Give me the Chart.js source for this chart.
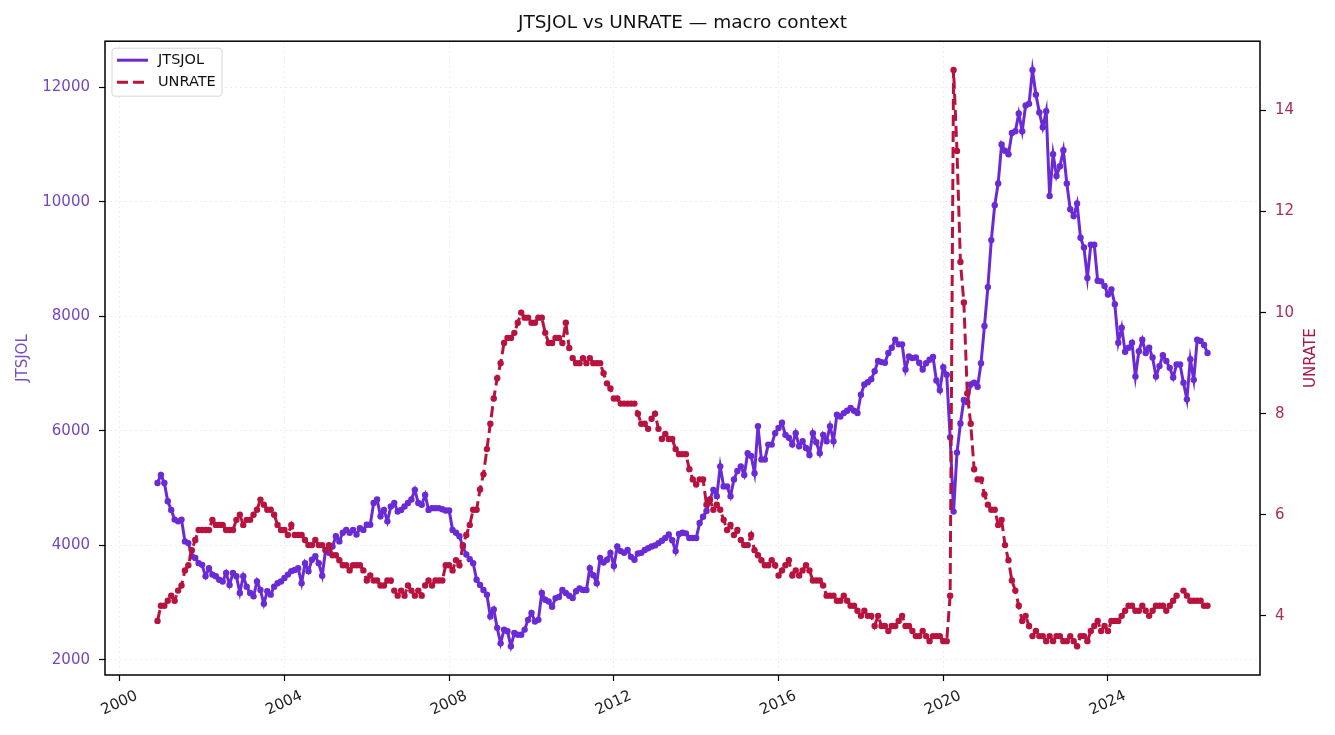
<!DOCTYPE html>
<html>
<head>
<meta charset="utf-8">
<title>JTSJOL vs UNRATE — macro context</title>
<script src="https://cdn.jsdelivr.net/npm/chart.js@4.4.1/dist/chart.umd.min.js"></script>
<style>
  html, body { margin: 0; padding: 0; background: #fff; }
  #wrap { width: 1335px; height: 735px; }
</style>
</head>
<body>
<div id="wrap"><canvas id="chart" width="1335" height="735"></canvas></div>
<script>
// ================= DATA =================
// monthly observations, first one is Dec 2000
const START_YEAR = 2000;
const START_MONTH = 12;

// job openings, thousands
const jtsjol = [
  5090,
  5230, 5090, 4770, 4620, 4450, 4420, 4450, 4070, 4040, 3810, 3780, 3690,   // 2001
  3660, 3460, 3600, 3490, 3460, 3400, 3370, 3520, 3310, 3520, 3460, 3170,   // 2002
  3460, 3280, 3170, 3110, 3370, 3220, 2980, 3200, 3140, 3280, 3340, 3370,   // 2003
  3430, 3490, 3550, 3570, 3600, 3340, 3690, 3550, 3750, 3810, 3690, 3470,   // 2004
  3920, 3870, 3980, 4160, 4070, 4220, 4270, 4220, 4270, 4190, 4300, 4270,   // 2005
  4360, 4360, 4740, 4800, 4510, 4620, 4420, 4680, 4740, 4590, 4620, 4680,   // 2006
  4740, 4800, 4970, 4740, 4710, 4880, 4620, 4650, 4650, 4650, 4630, 4610,   // 2007
  4610, 4270, 4220, 4160, 3980, 3840, 3760, 3690, 3400, 3310, 3220, 3140,   // 2008
  2760, 2880, 2560, 2290, 2530, 2500, 2240, 2470, 2440, 2440, 2530, 2700,   // 2009
  2820, 2670, 2700, 3170, 3050, 3020, 2930, 3080, 3100, 3220, 3170, 3120,   // 2010
  3080, 3200, 3250, 3220, 3220, 3600, 3480, 3340, 3780, 3700, 3750, 3870,   // 2011
  3640, 3980, 3900, 3870, 3920, 3800, 3750, 3860, 3870, 3920, 3950, 3980,   // 2012
  4000, 4040, 4080, 4130, 4190, 4090, 3900, 4200, 4220, 4210, 4130, 4130,   // 2013
  4130, 4390, 4500, 4600, 4800, 4970, 4860, 5380, 5030, 5030, 4860, 5150,   // 2014
  5300, 5380, 5230, 5610, 5560, 5260, 6080, 5500, 5500, 5760, 5760, 5960,   // 2015
  6050, 6140, 5930, 5880, 5760, 5960, 5730, 5820, 5700, 5580, 5960, 5800,   // 2016
  5610, 5930, 5820, 6080, 5820, 6280, 6250, 6310, 6350, 6400, 6350, 6310,   // 2017
  6630, 6810, 6850, 6900, 7040, 7220, 7200, 7190, 7360, 7450, 7590, 7510,   // 2018
  7510, 7070, 7300, 7270, 7280, 7190, 7070, 7180, 7240, 7290, 6880, 6710,   // 2019
  7110, 6980, 5890, 4590, 5620, 6130, 6540, 6500, 6810, 6840, 6770, 7180,   // 2020
  7830, 8510, 9330, 9940, 10320, 11000, 10890, 10830, 11200, 11230, 11540, 11230, // 2021
  11680, 11710, 12300, 11870, 11560, 11300, 11580, 10100, 10830, 10450, 10620, 10900, // 2022
  10320, 9870, 9750, 9970, 9370, 9200, 8670, 9250, 9250, 8620, 8610, 8530, // 2023
  8380, 8470, 8210, 7540, 7800, 7380, 7450, 7540, 6950, 7390, 7590, 7360,   // 2024
  7450, 7280, 6950, 7130, 7320, 7220, 7100, 6930, 7160, 7160, 6840, 6550,   // 2025
  7250, 6890, 7590, 7570, 7500, 7360                                        // 2026
];

// unemployment rate, percent (Oct 2025 has no reading)
const unrate = [
  3.9,
  4.2, 4.2, 4.3, 4.4, 4.3, 4.5, 4.6, 4.9, 5.0, 5.3, 5.5, 5.7,   // 2001
  5.7, 5.7, 5.7, 5.9, 5.8, 5.8, 5.8, 5.7, 5.7, 5.7, 5.9, 6.0,   // 2002
  5.8, 5.9, 5.9, 6.0, 6.1, 6.3, 6.2, 6.1, 6.1, 6.0, 5.8, 5.7,   // 2003
  5.7, 5.6, 5.8, 5.6, 5.6, 5.6, 5.5, 5.4, 5.4, 5.5, 5.4, 5.4,   // 2004
  5.3, 5.4, 5.2, 5.2, 5.1, 5.0, 5.0, 4.9, 5.0, 5.0, 5.0, 4.9,   // 2005
  4.7, 4.8, 4.7, 4.7, 4.6, 4.6, 4.7, 4.7, 4.5, 4.4, 4.5, 4.4,   // 2006
  4.6, 4.5, 4.4, 4.5, 4.4, 4.6, 4.7, 4.6, 4.7, 4.7, 4.7, 5.0,   // 2007
  5.0, 4.9, 5.1, 5.0, 5.4, 5.6, 5.8, 6.1, 6.1, 6.5, 6.8, 7.3,   // 2008
  7.8, 8.3, 8.7, 9.0, 9.4, 9.5, 9.5, 9.6, 9.8, 10.0, 9.9, 9.9,  // 2009
  9.8, 9.8, 9.9, 9.9, 9.6, 9.4, 9.4, 9.5, 9.5, 9.4, 9.8, 9.3,   // 2010
  9.1, 9.0, 9.0, 9.1, 9.0, 9.1, 9.0, 9.0, 9.0, 8.8, 8.6, 8.5,   // 2011
  8.3, 8.3, 8.2, 8.2, 8.2, 8.2, 8.2, 8.0, 7.8, 7.8, 7.7, 7.9,   // 2012
  8.0, 7.7, 7.5, 7.6, 7.5, 7.5, 7.3, 7.2, 7.2, 7.2, 6.9, 6.7,   // 2013
  6.6, 6.7, 6.7, 6.2, 6.3, 6.1, 6.2, 6.1, 5.9, 5.7, 5.8, 5.6,   // 2014
  5.7, 5.5, 5.4, 5.4, 5.6, 5.3, 5.2, 5.1, 5.0, 5.0, 5.1, 5.0,   // 2015
  4.8, 4.9, 5.0, 5.1, 4.8, 4.9, 4.8, 4.9, 5.0, 4.9, 4.7, 4.7,   // 2016
  4.7, 4.6, 4.4, 4.4, 4.4, 4.3, 4.3, 4.4, 4.3, 4.2, 4.2, 4.1,   // 2017
  4.0, 4.1, 4.0, 4.0, 3.8, 4.0, 3.8, 3.8, 3.7, 3.8, 3.8, 3.9,   // 2018
  4.0, 3.8, 3.8, 3.7, 3.6, 3.6, 3.7, 3.6, 3.5, 3.6, 3.6, 3.6,   // 2019
  3.5, 3.5, 4.4, 14.8, 13.2, 11.0, 10.2, 8.4, 7.8, 6.9, 6.7, 6.7, // 2020
  6.4, 6.2, 6.1, 6.1, 5.8, 5.9, 5.4, 5.1, 4.7, 4.5, 4.2, 3.9,   // 2021
  4.0, 3.8, 3.6, 3.7, 3.6, 3.6, 3.5, 3.6, 3.5, 3.6, 3.6, 3.5,   // 2022
  3.5, 3.6, 3.5, 3.4, 3.6, 3.6, 3.5, 3.7, 3.8, 3.9, 3.7, 3.8,   // 2023
  3.7, 3.9, 3.9, 3.9, 4.0, 4.1, 4.2, 4.2, 4.1, 4.1, 4.2, 4.1,   // 2024
  4.0, 4.1, 4.2, 4.2, 4.2, 4.1, 4.2, 4.3, 4.4, null, 4.5, 4.4,  // 2025
  4.3, 4.3, 4.3, 4.3, 4.2, 4.2                                  // 2026
];

const months = jtsjol.map((_, i) => {
  const m = START_MONTH - 1 + i;
  return `${START_YEAR + Math.floor(m / 12)}-${String(m % 12 + 1).padStart(2, '0')}`;
});

const xTicks = [2000, 2004, 2008, 2012, 2016, 2020, 2024];
const leftTicks = [2000, 4000, 6000, 8000, 10000, 12000];
const rightTicks = [4, 6, 8, 10, 12, 14];

// axis limits (data range plus 5% margin on each side)
const X_MIN = 1999.642, X_MAX = 2027.692;
const Y_MIN = 1737, Y_MAX = 12803;
const Y1_MIN = 2.83, Y1_MAX = 15.37;

// ================= STYLE =================
const FONT = 'DejaVu Sans';
const C_JOL = '#6a2ad6';
const C_UNR = '#b8123e';
const GRID = 'rgba(0,0,0,0.07)';
const DASH = [11, 5];

Chart.defaults.font.family = FONT;
Chart.defaults.color = '#222';

const toYear = s => {
  const [y, m] = s.split('-').map(Number);
  return y + (m - 1) / 12;
};

// ================= PLUGINS =================
const framePlugin = {
  id: 'frame',
  afterDraw(chart) {
    const { ctx, chartArea: a } = chart;
    ctx.save();
    ctx.strokeStyle = '#000';
    ctx.lineWidth = 1.5;
    ctx.strokeRect(a.left, a.top, a.right - a.left, a.bottom - a.top);
    ctx.restore();
  }
};

const legendPlugin = {
  id: 'boxLegend',
  afterDraw(chart) {
    const { ctx, chartArea: a } = chart;
    const x = a.left + 7, y = a.top + 7;
    ctx.save();
    ctx.beginPath();
    ctx.roundRect(x, y, 110, 48, 3);
    ctx.fillStyle = 'rgba(255,255,255,0.85)';
    ctx.fill();
    ctx.strokeStyle = '#d6d6d6';
    ctx.lineWidth = 1;
    ctx.stroke();

    ctx.font = `14.5px "${FONT}"`;
    ctx.textBaseline = 'middle';
    chart.data.datasets.forEach((ds, i) => {
      const ly = y + 12 + i * 22;
      ctx.beginPath();
      ctx.setLineDash(ds.borderDash || []);
      ctx.strokeStyle = ds.borderColor;
      ctx.lineWidth = ds.borderWidth;
      ctx.moveTo(x + 5, ly);
      ctx.lineTo(x + 36, ly);
      ctx.stroke();
      ctx.setLineDash([]);
      ctx.fillStyle = '#111';
      ctx.fillText(ds.label, x + 46, ly);
    });
    ctx.restore();
  }
};

// right axis title reads bottom-to-top like matplotlib
const rightTitlePlugin = {
  id: 'rightTitle',
  afterDraw(chart) {
    const { ctx, chartArea: a } = chart;
    ctx.save();
    ctx.translate(1311, (a.top + a.bottom) / 2);
    ctx.rotate(-Math.PI / 2);
    ctx.font = `15px "${FONT}"`;
    ctx.fillStyle = '#a8174a';
    ctx.textAlign = 'center';
    ctx.textBaseline = 'middle';
    ctx.fillText('UNRATE', 0, 0);
    ctx.restore();
  }
};

// ================= CHART =================
new Chart(document.getElementById('chart'), {
  type: 'line',
  data: {
    datasets: [
      {
        label: 'JTSJOL',
        data: months.map((m, i) => ({ x: toYear(m), y: jtsjol[i] })),
        yAxisID: 'y',
        borderColor: C_JOL,
        backgroundColor: C_JOL,
        borderWidth: 3,
        pointRadius: 3.2,
        pointBorderWidth: 0,
        pointHoverRadius: 0,
        tension: 0,
        order: 2
      },
      {
        label: 'UNRATE',
        data: months.map((m, i) => ({ x: toYear(m), y: unrate[i] })),
        yAxisID: 'y1',
        borderColor: C_UNR,
        backgroundColor: C_UNR,
        borderWidth: 3,
        borderDash: DASH,
        pointRadius: 3.2,
        pointBorderWidth: 0,
        pointHoverRadius: 0,
        spanGaps: true,
        tension: 0,
        order: 1
      }
    ]
  },
  options: {
    responsive: false,
    animation: false,
    devicePixelRatio: 1,
    layout: { padding: 0 },
    plugins: {
      legend: { display: false },
      tooltip: { enabled: false },
      title: {
        display: true,
        text: 'JTSJOL vs UNRATE — macro context',
        fullSize: false,
        color: '#111',
        font: { size: 18.5, weight: 'normal' },
        padding: { top: 12, bottom: 7 }
      }
    },
    scales: {
      x: {
        type: 'linear',
        min: X_MIN,
        max: X_MAX,
        afterBuildTicks: s => { s.ticks = xTicks.map(v => ({ value: v })); },
        afterFit: s => { s.height = 60; },
        ticks: {
          minRotation: 25,
          maxRotation: 25,
          labelOffset: 17,
          padding: 6,
          color: '#222',
          font: { size: 15 },
          callback: v => String(v)
        },
        grid: { color: GRID, lineWidth: 1, tickColor: '#000', tickLength: 6, tickWidth: 1.2 },
        border: { display: false, dash: [2, 3] }
      },
      y: {
        position: 'left',
        min: Y_MIN,
        max: Y_MAX,
        afterBuildTicks: s => { s.ticks = leftTicks.map(v => ({ value: v })); },
        afterFit: s => { s.width = 105; },
        ticks: { padding: 9, color: '#7446c2', font: { size: 15 }, callback: v => String(v) },
        grid: { color: GRID, lineWidth: 1, tickColor: '#000', tickLength: 6, tickWidth: 1.2 },
        border: { display: false, dash: [2, 3] },
        title: {
          display: true,
          text: 'JTSJOL',
          color: '#7a4cc8',
          font: { size: 15 },
          padding: { top: 14, bottom: 0 }
        }
      },
      y1: {
        position: 'right',
        min: Y1_MIN,
        max: Y1_MAX,
        afterBuildTicks: s => { s.ticks = rightTicks.map(v => ({ value: v })); },
        afterFit: s => { s.width = 75; },
        ticks: { padding: 9, color: '#a82c58', font: { size: 15 }, callback: v => String(v) },
        grid: { drawOnChartArea: false, tickColor: '#000', tickLength: 6, tickWidth: 1.2 },
        border: { display: false }
      }
    }
  },
  plugins: [framePlugin, legendPlugin, rightTitlePlugin]
});
</script>
</body>
</html>
